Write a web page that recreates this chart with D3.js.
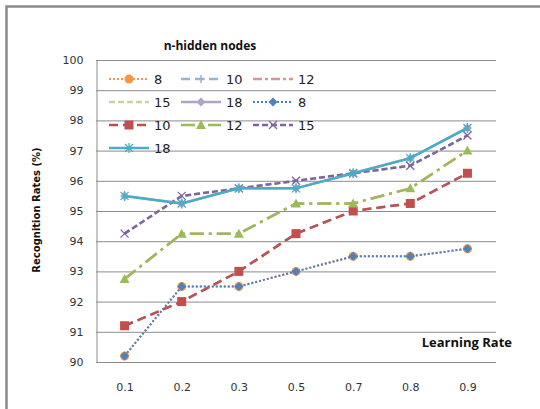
<!DOCTYPE html>
<html><head><meta charset="utf-8">
<script src="https://cdn.jsdelivr.net/npm/d3@7"></script>
<style>body{margin:0;background:#fff}svg{display:block}</style>
</head><body>
<svg id="c" width="540" height="409"></svg>
<script>
const categories = ["0.1","0.2","0.3","0.5","0.7","0.8","0.9"];
const yTicks = [90,91,92,93,94,95,96,97,98,99,100];
const seriesNames = ["8","10","12","15","18","8","10","12","15","18"];
const s8  = [90.2, 92.5, 92.5, 93.0, 93.5, 93.5, 93.75];
const s10 = [91.2, 92.0, 93.0, 94.25, 95.0, 95.25, 96.25];
const s12 = [92.75, 94.25, 94.25, 95.25, 95.25, 95.75, 97.0];
const s15 = [94.25, 95.5, 95.75, 96.0, 96.25, 96.5, 97.5];
const s18 = [95.5, 95.25, 95.75, 95.75, 96.25, 96.75, 97.75];
const seriesValues = [s8, s10, s12, s15, s18, s8, s10, s12, s15, s18];

const styles = [
  {color:"#F79646", dash:"2,2", w:2, marker:"circle"},
  {color:"#95B3D7", dash:"9,5", w:2.5, marker:"plus"},
  {color:"#D99694", dash:"14,5,3,5", w:2.5, marker:"none"},
  {color:"#C3D69B", dash:"6,3", w:2.5, marker:"none"},
  {color:"#B3A2C7", dash:null, w:2.5, marker:"diamond"},
  {color:"#4F81BD", dash:"2,2", w:2, marker:"diamond"},
  {color:"#C0504D", dash:"9,5", w:2.5, marker:"square"},
  {color:"#9BBB59", dash:"14,5,3,5", w:2.5, marker:"triangle"},
  {color:"#8064A2", dash:"6,3", w:2.5, marker:"x"},
  {color:"#4BACC6", dash:null, w:2.5, marker:"star"}
];
const legendStyles = [
  {dash:"2,2"},{dash:"9,5"},{dash:"9,3,3,3"},{dash:"6,3"},{dash:null},
  {dash:"2,2"},{dash:"9,5"},{dash:"14,5,3,5"},{dash:"6,3"},{dash:null}
];

const svg = d3.select("#c");
const L = 96, R = 496, T = 60, B = 362;
const x = d3.scalePoint().domain(categories).range([L, R]).padding(0.5);
const y = d3.scaleLinear().domain([90, 100]).range([B, T]);

// outer border
svg.append("rect").attr("x",6.5).attr("y",6.5).attr("width",560).attr("height",420)
  .attr("fill","none").attr("stroke","#8a8a8a").attr("stroke-width",2.5);

// gridlines
svg.append("g").selectAll("line").data(yTicks.slice(1)).join("line")
  .attr("x1",L).attr("x2",R).attr("y1",d=>y(d)+0.5).attr("y2",d=>y(d)+0.5)
  .attr("stroke","#8c8c8c").attr("stroke-width",1);

// axes
const yAxis = d3.axisLeft(y).tickValues(yTicks).tickSize(0).tickPadding(13).tickFormat(d3.format("d"));
const gy = svg.append("g").attr("transform",`translate(${L+0.5},0)`).call(yAxis);
gy.select(".domain").attr("stroke","#8c8c8c");
gy.selectAll("text").attr("font-family","DejaVu Sans, Verdana, sans-serif").attr("font-size",11).attr("fill","#333");

const xAxis = d3.axisBottom(x).tickSize(0).tickPadding(21);
const gx = svg.append("g").attr("transform",`translate(0,${B+0.5})`).call(xAxis);
gx.select(".domain").attr("stroke","#8c8c8c").attr("d",`M${L},0H${R}`);
gx.selectAll("text").attr("font-family","DejaVu Sans, Verdana, sans-serif").attr("font-size",11).attr("fill","#333");

function drawMarker(g, type, cx, cy, color) {
  if (type === "circle") g.append("circle").attr("cx",cx).attr("cy",cy).attr("r",4.5).attr("fill",color);
  else if (type === "diamond") g.append("path").attr("d",`M${cx},${cy-4.5}L${cx+4.5},${cy}L${cx},${cy+4.5}L${cx-4.5},${cy}Z`).attr("fill",color);
  else if (type === "square") g.append("rect").attr("x",cx-4.5).attr("y",cy-4.5).attr("width",9).attr("height",9).attr("fill",color);
  else if (type === "triangle") g.append("path").attr("d",`M${cx},${cy-5}L${cx+5},${cy+4}L${cx-5},${cy+4}Z`).attr("fill",color);
  else if (type === "plus") g.append("path").attr("d",`M${cx-4},${cy}H${cx+4}M${cx},${cy-4}V${cy+4}`).attr("stroke",color).attr("stroke-width",1.5);
  else if (type === "x") g.append("path").attr("d",`M${cx-4},${cy-4}L${cx+4},${cy+4}M${cx-4},${cy+4}L${cx+4},${cy-4}`).attr("stroke",color).attr("stroke-width",1.3);
  else if (type === "star") g.append("path").attr("d",`M${cx-4},${cy-4}L${cx+4},${cy+4}M${cx-4},${cy+4}L${cx+4},${cy-4}M${cx},${cy-5}V${cy+5}`).attr("stroke",color).attr("stroke-width",1.3);
}

const line = d3.line().x((d,i)=>x(categories[i])).y(d=>y(d));
const plot = svg.append("g");
seriesValues.forEach((vals, k) => {
  const st = styles[k];
  const g = plot.append("g");
  g.append("path").attr("d", line(vals)).attr("fill","none").attr("stroke",st.color)
    .attr("stroke-width",st.w).attr("stroke-dasharray",st.dash);
  vals.forEach((v,i)=>drawMarker(g, st.marker, x(categories[i]), y(v), st.color));
});

// legend
const leg = svg.append("g");
const colX = [109, 181, 253];
const rowY = [79, 102, 125, 148];
seriesNames.forEach((name,k) => {
  const col = k % 3, row = Math.floor(k / 3);
  const lx = colX[col], ly = rowY[row];
  const st = styles[k];
  const g = leg.append("g");
  g.append("line").attr("x1",lx).attr("x2",lx+40).attr("y1",ly).attr("y2",ly)
    .attr("stroke",st.color).attr("stroke-width",st.w).attr("stroke-dasharray",legendStyles[k].dash);
  drawMarker(g, st.marker, lx+20, ly, st.color);
  g.append("text").attr("x",lx+45).attr("y",ly).attr("dy","0.35em")
    .attr("font-family","DejaVu Sans, Verdana, sans-serif").attr("font-size",13).attr("fill","#222").text(name);
});

// titles
svg.append("text").attr("x",210).attr("y",50).attr("text-anchor","middle")
  .attr("font-family","Open Sans, sans-serif").attr("font-weight","bold").attr("font-size",12).attr("fill","#111")
  .text("n-hidden nodes");
svg.append("text").attr("x",512).attr("y",347).attr("text-anchor","end")
  .attr("font-family","Open Sans, sans-serif").attr("font-weight","bold").attr("font-size",13).attr("fill","#111")
  .text("Learning Rate");
svg.append("text").attr("transform","translate(40,210) rotate(-90)").attr("text-anchor","middle")
  .attr("font-family","DejaVu Sans, Verdana, sans-serif").attr("font-weight","bold").attr("font-size",10).attr("fill","#111")
  .text("Recognition Rates (%)");
</script>
</body></html>
